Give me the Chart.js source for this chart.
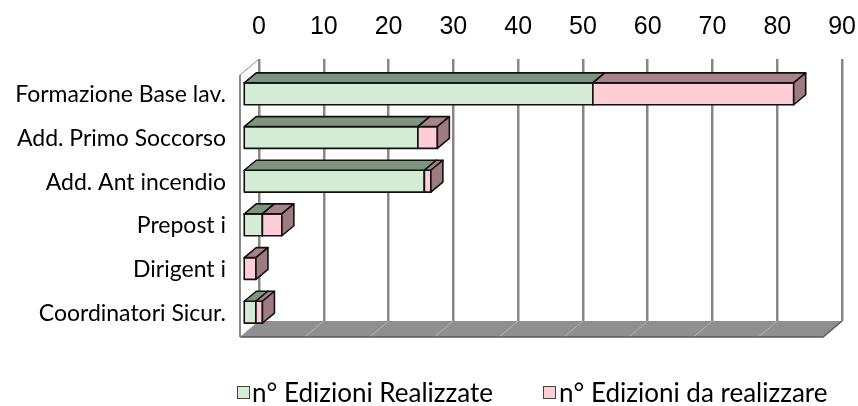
<!DOCTYPE html>
<html><head><meta charset="utf-8">
<script src="https://cdn.jsdelivr.net/npm/chart.js@4/dist/chart.umd.min.js"></script>
<style>html,body{margin:0;padding:0;background:#fff}#wrap{width:858px;height:406px}</style>
</head><body><div id="wrap"><canvas id="c" width="858" height="406"></canvas></div>
<script>
const categories = ["Formazione Base lav.", "Add. Primo Soccorso", "Add. Ant incendio", "Prepost i", "Dirigent i", "Coordinatori Sicur."];
const seriesNames = ["n° Edizioni Realizzate", "n° Edizioni da realizzare"];
const realizzate = [54, 27, 28, 3, 0, 2];
const daRealizzare = [31, 3, 1, 3, 2, 1];
const xTicks = [0, 10, 20, 30, 40, 50, 60, 70, 80, 90];

const DEPTH = {dx: 12, dy: -10};
const SHIFT = {dx: -16, dy: 13};
const FLOOR = {dx: -19, dy: 16};
const faces = [
  {front: '#d5ecd4', top: '#7d957e', side: '#718b72'},
  {front: '#ffcdd5', top: '#a8848a', side: '#9d7b81'}
];
const legendPos = [{box: 237, text: 252}, {box: 543, text: 559}];

const threeD = {
  id: 'threeD',
  beforeDatasetsDraw(chart) {
    const {ctx, chartArea: a, scales: {x}} = chart;
    ctx.save();
    ctx.beginPath();
    ctx.moveTo(a.left, a.bottom); ctx.lineTo(a.right, a.bottom);
    ctx.lineTo(a.right + FLOOR.dx, a.bottom + FLOOR.dy); ctx.lineTo(a.left + FLOOR.dx, a.bottom + FLOOR.dy);
    ctx.closePath(); ctx.fillStyle = '#8f8f8f'; ctx.fill();
    ctx.strokeStyle = '#b4b4b4'; ctx.lineWidth = 1;
    x.ticks.forEach(t => {
      const px = x.getPixelForValue(t.value);
      ctx.beginPath(); ctx.moveTo(px, a.bottom); ctx.lineTo(px + FLOOR.dx, a.bottom + FLOOR.dy); ctx.stroke();
    });
    ctx.strokeStyle = '#5a5a5a'; ctx.lineWidth = 1.5;
    ctx.beginPath();
    ctx.moveTo(a.left + FLOOR.dx, a.bottom + FLOOR.dy); ctx.lineTo(a.right + FLOOR.dx, a.bottom + FLOOR.dy); ctx.lineTo(a.right, a.bottom);
    ctx.stroke();
    ctx.strokeStyle = '#8a8a8a'; ctx.lineWidth = 2;
    ctx.beginPath(); ctx.moveTo(a.left + FLOOR.dx, a.top + FLOOR.dy); ctx.lineTo(a.left + FLOOR.dx, a.bottom + FLOOR.dy); ctx.stroke();
    ctx.lineWidth = 1;
    ctx.beginPath(); ctx.moveTo(a.left + FLOOR.dx, a.top + FLOOR.dy); ctx.lineTo(a.left, a.top); ctx.stroke();
    ctx.lineJoin = 'round';
    chart.data.datasets.forEach((ds, di) => {
      const meta = chart.getDatasetMeta(di);
      const f = faces[di];
      meta.data.forEach(el => {
        const p = el.getProps(['x', 'y', 'base', 'height'], true);
        const L = Math.min(p.base, p.x) + SHIFT.dx, R = Math.max(p.base, p.x) + SHIFT.dx;
        if (R - L < 0.5) return;
        const T = p.y - p.height / 2 + SHIFT.dy, B = p.y + p.height / 2 + SHIFT.dy;
        ctx.strokeStyle = '#111'; ctx.lineWidth = 1.6;
        ctx.beginPath(); ctx.rect(L, T, R - L, B - T); ctx.fillStyle = f.front; ctx.fill(); ctx.stroke();
        ctx.beginPath(); ctx.moveTo(L, T); ctx.lineTo(R, T); ctx.lineTo(R + DEPTH.dx, T + DEPTH.dy); ctx.lineTo(L + DEPTH.dx, T + DEPTH.dy); ctx.closePath();
        ctx.fillStyle = f.top; ctx.fill(); ctx.stroke();
        ctx.beginPath(); ctx.moveTo(R, T); ctx.lineTo(R + DEPTH.dx, T + DEPTH.dy); ctx.lineTo(R + DEPTH.dx, B + DEPTH.dy); ctx.lineTo(R, B); ctx.closePath();
        ctx.fillStyle = f.side; ctx.fill(); ctx.stroke();
      });
    });
    ctx.restore();
    return false;
  },
  afterDraw(chart) {
    const ctx = chart.ctx;
    ctx.save();
    ctx.font = '26px Lato';
    ctx.textBaseline = 'alphabetic';
    ctx.textAlign = 'left';
    chart.data.datasets.forEach((ds, i) => {
      const lp = legendPos[i];
      ctx.fillStyle = faces[i].front; ctx.strokeStyle = '#444'; ctx.lineWidth = 1;
      ctx.fillRect(lp.box + 0.5, 386.5, 12, 12); ctx.strokeRect(lp.box + 0.5, 386.5, 12, 12);
      ctx.fillStyle = '#000';
      ctx.fillText(ds.label, lp.text, 402);
    });
    ctx.restore();
  }
};

new Chart(document.getElementById('c'), {
  type: 'bar',
  data: {
    labels: categories,
    datasets: [
      {label: seriesNames[0], data: realizzate, backgroundColor: faces[0].front, borderColor: '#111', borderWidth: 1},
      {label: seriesNames[1], data: daRealizzare, backgroundColor: faces[1].front, borderColor: '#111', borderWidth: 1}
    ]
  },
  options: {
    indexAxis: 'y',
    responsive: false,
    animation: false,
    devicePixelRatio: 1,
    layout: {padding: {left: 0, right: 0, top: 0, bottom: 85}},
    plugins: {legend: {display: false}, tooltip: {enabled: false}},
    datasets: {bar: {categoryPercentage: 1, barPercentage: 0.5}},
    scales: {
      x: {
        type: 'linear', position: 'top', min: 0, max: 90, stacked: true,
        afterBuildTicks(s) { s.ticks = xTicks.map(v => ({value: v})); },
        afterFit(s) { s.height = 59; },
        ticks: {padding: 2, color: '#000', font: {family: 'Liberation Sans', size: 25, lineHeight: 2.4}, maxRotation: 0, autoSkip: false},
        grid: {color: '#878787', lineWidth: 2.5, drawTicks: false},
        border: {display: false}
      },
      y: {
        type: 'category', stacked: true, offset: true,
        afterFit(s) { s.width = 259; },
        ticks: {padding: 33, labelOffset: 14, color: '#000', font: {family: 'Lato', size: 23}, autoSkip: false},
        grid: {display: false, drawTicks: false},
        border: {display: false}
      }
    }
  },
  plugins: [threeD]
});
</script>
</body></html>
